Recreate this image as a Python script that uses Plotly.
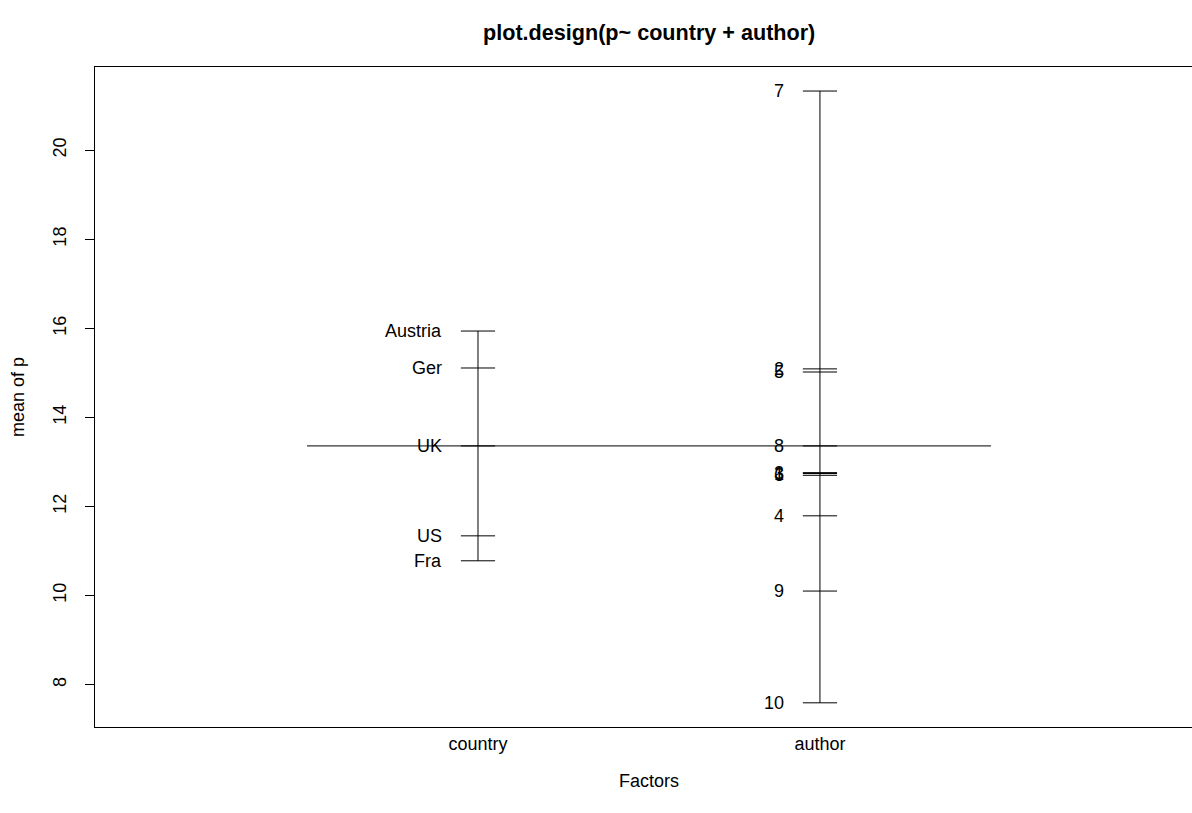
import plotly.graph_objects as go

# Data
factors = ["country", "author"]
country_levels = ["Austria", "Fra", "Ger", "UK", "US"]
country_means = [15.94, 10.78, 15.11, 13.36, 11.34]
author_levels = ["1", "2", "3", "4", "5", "6", "7", "8", "9", "10"]
author_means = [12.74, 15.09, 12.76, 11.79, 15.02, 12.70, 21.33, 13.36, 10.10, 7.59]
grand_mean = 13.36
y_ticks = [8, 10, 12, 14, 16, 18, 20]

groups = [(1, country_levels, country_means), (2, author_levels, author_means)]

FONT = "Liberation Sans, Arial, Helvetica, sans-serif"
fig = go.Figure()

# grand mean line
fig.add_trace(go.Scatter(x=[0.5, 2.5], y=[grand_mean, grand_mean], mode="lines",
                         line=dict(color="black", width=1), hoverinfo="skip", showlegend=False))

annotations = []
for xi, levels, means in groups:
    # vertical range line
    fig.add_trace(go.Scatter(x=[xi, xi], y=[min(means), max(means)], mode="lines",
                             line=dict(color="black", width=1), hoverinfo="skip", showlegend=False))
    # horizontal segments
    xs, ys = [], []
    for m in means:
        xs += [xi - 0.05, xi + 0.05, None]
        ys += [m, m, None]
    fig.add_trace(go.Scatter(x=xs, y=ys, mode="lines",
                             line=dict(color="black", width=1), hoverinfo="skip", showlegend=False))
    for lab, m in zip(levels, means):
        annotations.append(dict(x=xi - 0.1, y=m, xref="x", yref="y", text=lab,
                                showarrow=False, xanchor="right", yanchor="middle",
                                font=dict(family=FONT, size=18, color="black")))

annotations.append(dict(x=1.5, y=1, xref="x", yref="paper", yshift=35,
                        text="<b>plot.design(p~ country + author)</b>", showarrow=False,
                        xanchor="center", yanchor="middle",
                        font=dict(family=FONT, size=21.6, color="black")))
annotations.append(dict(x=1.5, y=0, xref="x", yref="paper", yshift=-54,
                        text="Factors", showarrow=False, xanchor="center", yanchor="middle",
                        font=dict(family=FONT, size=18, color="black")))
annotations.append(dict(x=0, y=0.5, xref="paper", yref="paper", xshift=-77,
                        text="mean of p", showarrow=False, textangle=-90,
                        xanchor="center", yanchor="middle",
                        font=dict(family=FONT, size=18, color="black")))

fig.update_layout(
    width=1192, height=813,
    margin=dict(l=95, r=0, t=67, b=86),
    paper_bgcolor="white", plot_bgcolor="white",
    showlegend=False,
    annotations=annotations,
    font=dict(family=FONT, size=18, color="black"),
    xaxis=dict(range=[-0.12, 3.088], tickvals=[1, 2], ticktext=factors, ticks="",
               showgrid=False, zeroline=False, showline=True, mirror=True,
               linecolor="black", linewidth=1, tickfont=dict(size=18)),
    yaxis=dict(range=[7.047, 21.87], tickvals=y_ticks, ticks="outside", ticklen=9,
               tickcolor="black", tickwidth=1, tickangle=-90, ticklabelstandoff=12,
               showgrid=False, zeroline=False, showline=True, mirror=False,
               linecolor="black", linewidth=1, tickfont=dict(size=18)),
)

fig.write_html("out.html", config={"displayModeBar": False},
               post_script="document.body.style.margin='0';document.body.style.overflow='hidden';")
